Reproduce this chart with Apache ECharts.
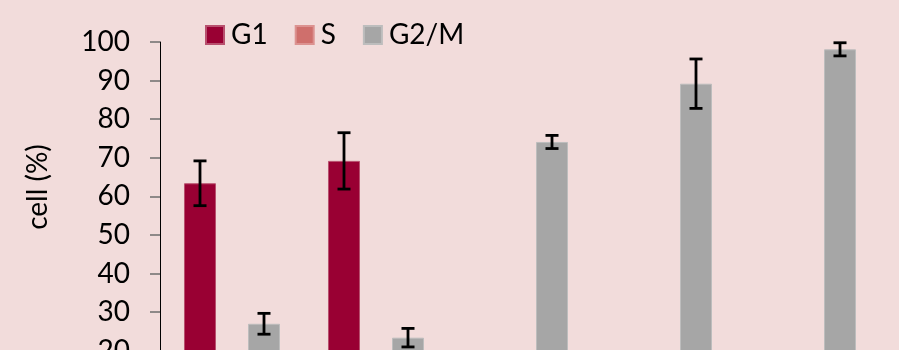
<!DOCTYPE html>
<html>
<head>
<meta charset="utf-8">
<script src="https://cdn.jsdelivr.net/npm/echarts@6/dist/echarts.min.js"></script>
<style>
  html, body { margin: 0; padding: 0; background: #f2dcdb; width: 899px; height: 350px; overflow: hidden; }
  #chart { width: 899px; height: 470px; }
</style>
</head>
<body>
<div id="chart"></div>
<script>
// Cell-cycle phase distribution per condition (percent of cells)
const categories = ['1', '2', '3', '4', '5'];
const g1Values = [63.4, 69.2, 12.0, 6.0, 1.0];
const g1Errors = [5.8, 7.3, 2.0, 1.5, 0.5];
const sValues = [9.6, 7.4, 14.0, 4.8, 0.9];
const sErrors = [2.0, 1.8, 2.5, 1.2, 0.4];
const g2mValues = [27.0, 23.4, 74.1, 89.2, 98.1];
const g2mErrors = [2.7, 2.4, 1.7, 6.4, 1.7];
const yTicks = [0, 10, 20, 30, 40, 50, 60, 70, 80, 90, 100];

const seriesNames = ['G1', 'S', 'G2/M'];
const seriesColors = ['#990033', '#cf6f6c', '#a6a6a6'];
const seriesEdges = ['#b8506e', '#dc9290', '#bdbdbd'];
const allValues = [g1Values, sValues, g2mValues];
const allErrors = [g1Errors, sErrors, g2mErrors];

const FONT = 'Lato';
const chart = echarts.init(document.getElementById('chart'), null, { renderer: 'canvas' });

// I-beam error bar drawn at the same slot as the matching bar
function errorRenderer(slot) {
  return function (params, api) {
    const cat = api.value(0);
    const val = api.value(1);
    const err = api.value(2);
    const band = api.size([1, 0])[0];
    const barW = band * (2 / 3) / 3;
    const dx = (slot - 1) * barW;
    const top = api.coord([cat, val + err]);
    const bot = api.coord([cat, val - err]);
    const x = top[0] + dx;
    const cap = 6.5;
    const style = { stroke: '#000', lineWidth: 2.8, fill: null };
    return {
      type: 'group',
      children: [
        { type: 'line', shape: { x1: x, y1: top[1], x2: x, y2: bot[1] }, style },
        { type: 'line', shape: { x1: x - cap, y1: top[1], x2: x + cap, y2: top[1] }, style },
        { type: 'line', shape: { x1: x - cap, y1: bot[1], x2: x + cap, y2: bot[1] }, style }
      ]
    };
  };
}

const series = [];
seriesNames.forEach(function (name, i) {
  series.push({
    name: name,
    type: 'bar',
    data: allValues[i],
    barGap: '0%',
    barCategoryGap: '33.333%',
    itemStyle: { color: seriesColors[i], borderColor: seriesEdges[i], borderWidth: 1 },
    emphasis: { disabled: true }
  });
});
seriesNames.forEach(function (name, i) {
  series.push({
    name: name + ' error',
    type: 'custom',
    renderItem: errorRenderer(i),
    data: categories.map(function (c, k) { return [k, allValues[i][k], allErrors[i][k]]; }),
    z: 5,
    silent: true
  });
});

chart.setOption({
  backgroundColor: '#f2dcdb',
  animation: false,
  textStyle: { fontFamily: FONT },
  legend: {
    data: seriesNames,
    left: 200,
    top: 16,
    itemWidth: 18,
    itemHeight: 18,
    itemGap: 27,
    icon: 'rect',
    textStyle: { fontFamily: FONT, fontSize: 28, color: '#000', padding: [0, 0, 0, 2] }
  },
  grid: { left: 160, top: 42, width: 720, height: 386, containLabel: false },
  xAxis: {
    type: 'category',
    data: categories,
    axisLine: { show: true, lineStyle: { color: '#000' } },
    axisTick: { show: false },
    axisLabel: { show: false }
  },
  yAxis: {
    type: 'value',
    min: yTicks[0],
    max: yTicks[yTicks.length - 1],
    interval: 10,
    axisLine: { show: true, lineStyle: { color: '#000', width: 1 } },
    axisTick: { show: true, length: 10, lineStyle: { color: '#6e6e6e', width: 1.5 } },
    axisLabel: { fontFamily: FONT, fontSize: 28, color: '#000', margin: 30 },
    splitLine: { show: false }
  },
  graphic: [{
    type: 'text',
    x: 38,
    y: 187,
    rotation: Math.PI / 2,
    style: {
      text: 'cell (%)',
      fontFamily: FONT,
      fontSize: 28,
      fill: '#000',
      align: 'center',
      verticalAlign: 'middle'
    }
  }],
  series: series
});
</script>
</body>
</html>
